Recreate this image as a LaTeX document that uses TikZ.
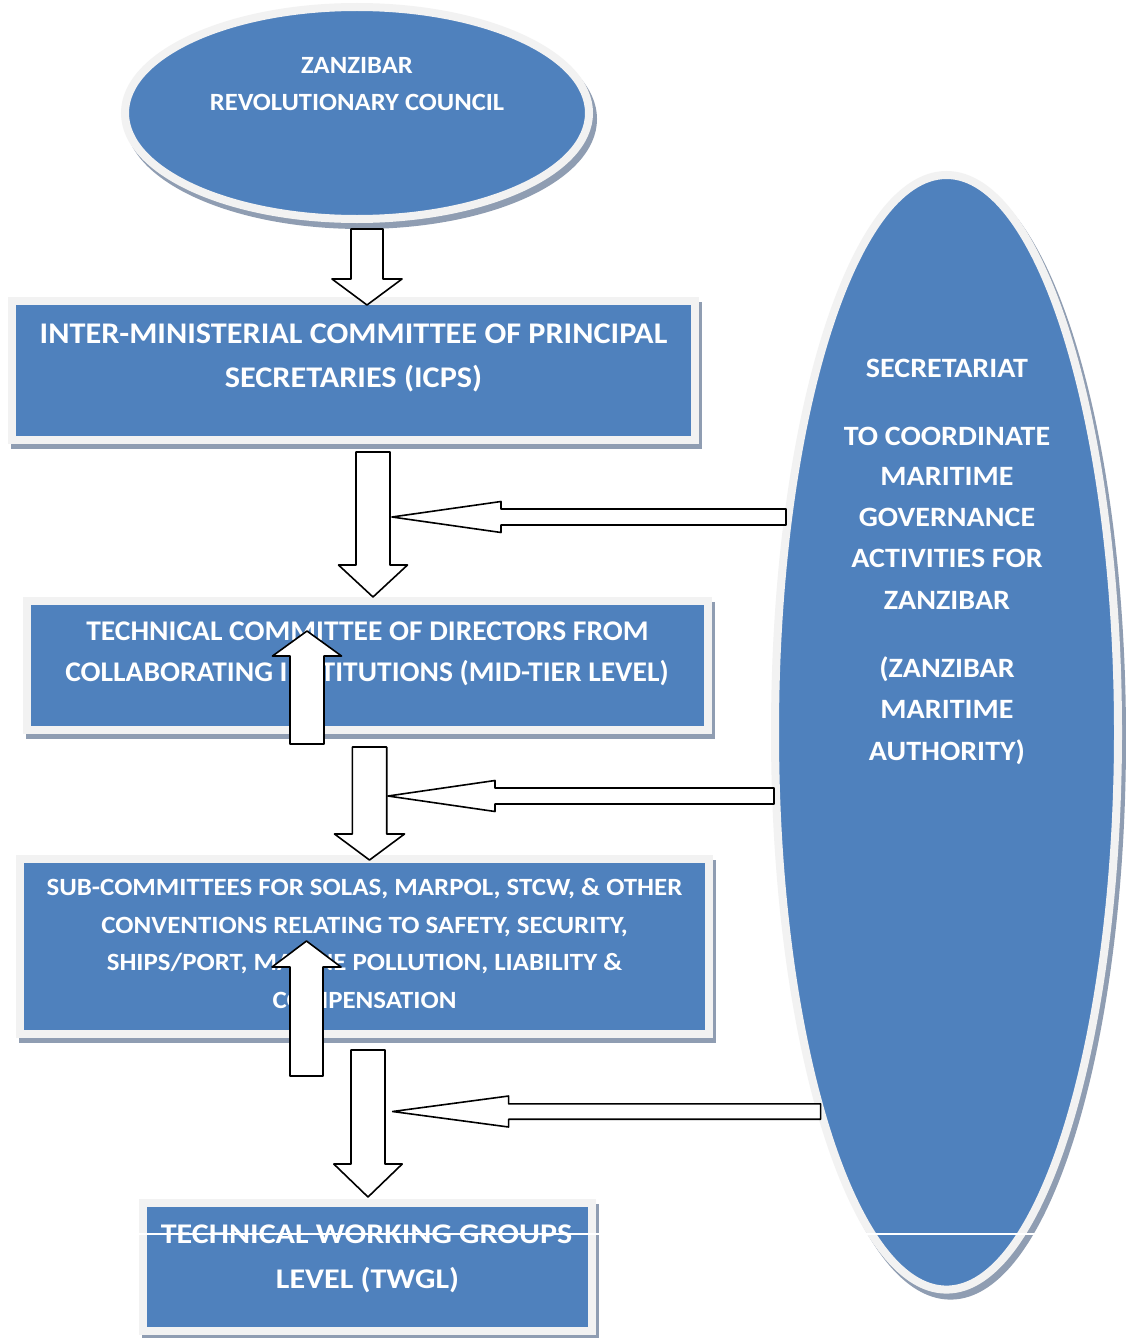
\documentclass[tikz,border=0pt]{standalone}
\usepackage{fontspec}
\usepackage{graphicx}
\setmainfont{Carlito}
\usetikzlibrary{calc,shapes.geometric}
\definecolor{zblue}{HTML}{4F81BD}
\definecolor{ringc}{HTML}{F2F2F2}
\definecolor{shadowc}{HTML}{8F9DB2}
\newcommand\fsA{\fontsize{24.8}{30}\selectfont\bfseries}
\newcommand\fsB{\fontsize{30}{36}\selectfont\bfseries}
\newcommand\fsC{\fontsize{28.5}{34}\selectfont\bfseries}
\newcommand\fsD{\fontsize{24.8}{30}\selectfont\bfseries}
\newcommand\fsE{\fontsize{28.5}{34}\selectfont\bfseries}
\newcommand\fsF{\fontsize{28}{34}\selectfont\bfseries}
\newcommand\txA[1]{\scalebox{1.072}[1]{#1}}
\newcommand\txB[1]{\scalebox{1.075}[1]{#1}}
\newcommand\txC[1]{\scalebox{1.036}[1]{#1}}
\newcommand\txD[1]{\scalebox{1.085}[1]{#1}}
\newcommand\txE[1]{\scalebox{1.125}[1]{#1}}
\newcommand\txF[1]{\scalebox{1.072}[1]{#1}}
% #1 name, #2 start, #3 tip, #4 half shaft, #5 half head, #6 head length
\newcommand\blockarrow[6]{%
  \coordinate (#1h) at ($(#3)!#6pt!(#2)$);
  \draw[barrow] ($(#2)!#4pt!90:(#3)$) -- ($(#1h)!#4pt!90:(#3)$) -- ($(#1h)!#5pt!90:(#3)$) -- (#3)
    -- ($(#1h)!#5pt!-90:(#3)$) -- ($(#1h)!#4pt!-90:(#3)$) -- ($(#2)!#4pt!-90:(#3)$) -- cycle;}
\begin{document}
\begin{tikzpicture}[x=1pt,y=-1pt,
  boxnode/.style={rectangle, draw=ringc, line width=8pt, fill=zblue, inner sep=0pt, outer sep=0pt,
    preaction={draw=shadowc, fill=shadowc, transform canvas={xshift=3pt,yshift=-5pt}}},
  ovalnode/.style={ellipse, draw=ringc, line width=8pt, fill=zblue, inner sep=0pt, outer sep=0pt,
    preaction={draw=shadowc, fill=shadowc, transform canvas={xshift=4pt,yshift=-6pt}}},
  lbl/.style={text=white, inner sep=0pt, anchor=base},
  barrow/.style={draw=black, fill=white, line width=1.6pt, line join=round}]
\useasboundingbox (0,0) rectangle (1126,1338);
\fill[white] (0,0) rectangle (1126,1338);

% shapes
\node[ovalnode, minimum width=464, minimum height=212] (zrc) at (357,113) {};
\node[boxnode, minimum width=683, minimum height=139] (icps) at (353.5,370.5) {};
\node[boxnode, minimum width=681, minimum height=129] (tcd) at (367.5,665.5) {};
\node[boxnode, minimum width=689, minimum height=175] (subc) at (364.5,946.5) {};
\node[boxnode, minimum width=448.5, minimum height=128] (twgl) at (367.25,1267) {};
\node[ovalnode, minimum width=343, minimum height=1114.6] (sec) at (946.5,732.3) {};

% texts
\node[lbl, font=\fsA] (zrc1) at (357,74) {\txA{ZANZIBAR}};
\node[lbl, font=\fsA] (zrc2) at (357,110.7) {\txA{REVOLUTIONARY COUNCIL}};

\node[lbl, font=\fsB] (icps1) at (353.5,343) {\txB{INTER-MINISTERIAL COMMITTEE OF PRINCIPAL}};
\node[lbl, font=\fsB] (icps2) at (353.5,387) {\txB{SECRETARIES (ICPS)}};

\node[lbl, font=\fsC] (tcd1) at (367.5,640) {\txC{TECHNICAL COMMITTEE OF DIRECTORS FROM}};
\node[lbl, font=\fsC] (tcd2) at (367,681) {\txC{COLLABORATING INSTITUTIONS (MID-TIER LEVEL)}};

\node[lbl, font=\fsD] (subc1) at (364.5,895) {\txD{SUB-COMMITTEES FOR SOLAS, MARPOL, STCW, \& OTHER}};
\node[lbl, font=\fsD] (subc2) at (364.5,933) {\txD{CONVENTIONS RELATING TO SAFETY, SECURITY,}};
\node[lbl, font=\fsD] (subc3) at (364.5,970) {\txD{SHIPS/PORT, MARINE POLLUTION, LIABILITY \&}};
\node[lbl, font=\fsD] (subc4) at (364.5,1008) {\txD{COMPENSATION}};

\node[lbl, font=\fsE] (twgl1) at (366.5,1243) {\txE{TECHNICAL WORKING GROUPS}};
\node[lbl, font=\fsE] (twgl2) at (367.5,1288) {\txE{LEVEL (TWGL)}};

\node[lbl, font=\fsF] (sec1) at (947,377) {\txF{SECRETARIAT}};
\node[lbl, font=\fsF] (sec2) at (947,445) {\txF{TO COORDINATE}};
\node[lbl, font=\fsF] (sec3) at (947,485.7) {\txF{MARITIME}};
\node[lbl, font=\fsF] (sec4) at (947,526.7) {\txF{GOVERNANCE}};
\node[lbl, font=\fsF] (sec5) at (947,567.7) {\txF{ACTIVITIES FOR}};
\node[lbl, font=\fsF] (sec6) at (947,609) {\txF{ZANZIBAR}};
\node[lbl, font=\fsF] (sec7) at (947,677) {\txF{(ZANZIBAR}};
\node[lbl, font=\fsF] (sec8) at (947,718.3) {\txF{MARITIME}};
\node[lbl, font=\fsF] (sec9) at (947,760) {\txF{AUTHORITY)}};

% block arrows
\coordinate (a1s) at ($(zrc.south)+(10,10)$);
\coordinate (a1t) at ($(a1s |- icps.north)+(0,4)$);
\blockarrow{a1}{a1s}{a1t}{16}{35}{26}

\coordinate (a2s) at ($(icps.south)+(19.5,12)$);
\coordinate (a2t) at ($(a2s |- tcd.north)+(0,-4)$);
\blockarrow{a2}{a2s}{a2t}{17}{34.5}{32}

\coordinate (l1s) at (786,517);
\coordinate (l1t) at (392,517);
\blockarrow{l1}{l1s}{l1t}{8}{15.5}{109}

\coordinate (u1s) at ($(tcd.south)+(-60.5,14)$);
\coordinate (u1t) at (u1s |- 0,631);
\blockarrow{u1}{u1s}{u1t}{17}{34.5}{25}

\coordinate (a3s) at ($(tcd.south)+(2,17)$);
\coordinate (a3t) at ($(a3s |- subc.north)+(0,1)$);
\blockarrow{a3}{a3s}{a3t}{17.2}{35}{26}

\coordinate (l2s) at (774,796);
\coordinate (l2t) at (388,796);
\blockarrow{l2}{l2s}{l2t}{8}{15.5}{107}

\coordinate (u2s) at ($(subc.south)+(-58,42)$);
\coordinate (u2t) at (u2s |- 0,941);
\blockarrow{u2}{u2s}{u2t}{16.5}{34.5}{26}

\coordinate (a4s) at ($(subc.south)+(3.5,16)$);
\coordinate (a4t) at ($(a4s |- twgl.north)+(0,-6)$);
\blockarrow{a4}{a4s}{a4t}{17}{34.2}{33}

\coordinate (l3s) at (820.6,1111.5);
\coordinate (l3t) at (392.6,1111.5);
\blockarrow{l3}{l3s}{l3t}{7.7}{15.5}{116}

% white strike line
\coordinate (wl1) at (138,1234);
\coordinate (wl2) at (1036,1234);
\draw[white, line width=2pt] (wl1) -- (wl2);
\end{tikzpicture}
\end{document}
